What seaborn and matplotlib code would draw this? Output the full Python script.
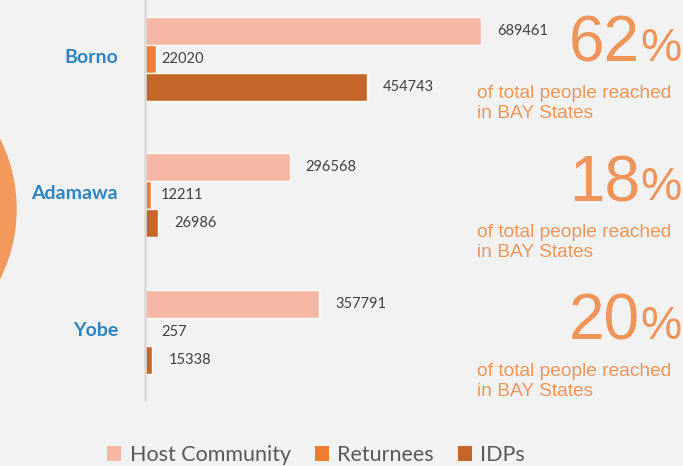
import matplotlib
matplotlib.use("Agg")
import matplotlib.pyplot as plt
from matplotlib.patches import Ellipse, Patch
from matplotlib.transforms import ScaledTranslation
import seaborn as sns
import pandas as pd

states = ["Borno", "Adamawa", "Yobe"]
groups = ["Host Community", "Returnees", "IDPs"]
host = [689461, 296568, 357791]
returnees = [22020, 12211, 257]
idps = [454743, 26986, 15338]
shares = ["62", "18", "20"]

colors = ["#F5B7A4", "#ED7D31", "#C5652A"]
orange_txt = "#F0955A"
bg = "#F2F2F2"

rows = []
for s, h, r, i in zip(states, host, returnees, idps):
    rows += [(s, groups[0], h), (s, groups[1], r), (s, groups[2], i)]
df = pd.DataFrame(rows, columns=["State", "Group", "Value"])

sns.set_style("white")
plt.rcParams["font.family"] = ["Lato", "DejaVu Sans"]

W, H = 683, 466
fig = plt.figure(figsize=(W / 100, H / 100), dpi=100, facecolor=bg)
ax = fig.add_axes([145 / W, (H - 400) / H, 538 / W, 400 / H])
ax.set_facecolor(bg)

sns.barplot(data=df, y="State", x="Value", hue="Group", orient="h",
            palette=colors, saturation=1, width=0.615, legend=False, ax=ax,
            order=states, hue_order=groups)

ax.set_xlim(0, 538 / (336 / 689461))
ax.set_ylim(2.5, -0.432)
for sp in ["top", "right", "bottom"]:
    ax.spines[sp].set_visible(False)
ax.spines["left"].set_color("#D9D9D9")
ax.spines["left"].set_linewidth(1.8)
ax.set_xticks([])
ax.set_xlabel("")
ax.set_ylabel("")
ax.tick_params(axis="y", length=0, pad=19.5)
shift = ScaledTranslation(0, 3 / 100, fig.dpi_scale_trans)
for lab in ax.get_yticklabels():
    lab.set_color("#2E84C2")
    lab.set_fontweight("bold")
    lab.set_fontsize(14)
    lab.set_transform(lab.get_transform() + shift)

# value labels
for gi, cont in enumerate(ax.containers):
    for bar in cont:
        v = bar.get_width()
        yc = bar.get_y() + bar.get_height() / 2
        x0 = 0 if groups[gi] == "Returnees" else v
        ax.annotate(f"{int(v)}", xy=(x0, yc), xytext=(16, 0),
                    textcoords="offset pixels", va="center", ha="left",
                    fontsize=10.5, color="#404040")

# percentage annotations (figure pixel coordinates from top)
for k, sh in enumerate(shares):
    dy = k * 139
    fig.text(640 / W, 1 - (62 + dy) / H, sh, ha="right", va="baseline",
             fontsize=46, color=orange_txt, family="Liberation Sans")
    fig.text(640 / W, 1 - (61 + dy) / H, "%", ha="left", va="baseline",
             fontsize=33.5, color=orange_txt, family="Liberation Sans")
    fig.text(477 / W, 1 - (98 + dy) / H, "of total people reached",
             ha="left", va="baseline", fontsize=13.8, color=orange_txt,
             family="Liberation Sans")
    fig.text(477 / W, 1 - (118 + dy) / H, "in BAY States",
             ha="left", va="baseline", fontsize=13.8, color=orange_txt,
             family="Liberation Sans")

# decorative circle at the left edge
circ = Ellipse((-141 / W, 1 - 209 / H), 314 / W, 314 / H,
               transform=fig.transFigure, color="#F19A5C", zorder=0)
fig.add_artist(circ)

handles = [Patch(facecolor=c, edgecolor="none", label=g) for c, g in zip(colors, groups)]
leg = fig.legend(handles=handles, loc="center", bbox_to_anchor=(0.463, 11 / H),
                 ncol=3, frameon=False, fontsize=15.5, handlelength=0.65,
                 handleheight=0.65, handletextpad=0.4, columnspacing=1.1,
                 labelcolor="#595959")

fig.savefig("out.png", dpi=100, facecolor=bg)
